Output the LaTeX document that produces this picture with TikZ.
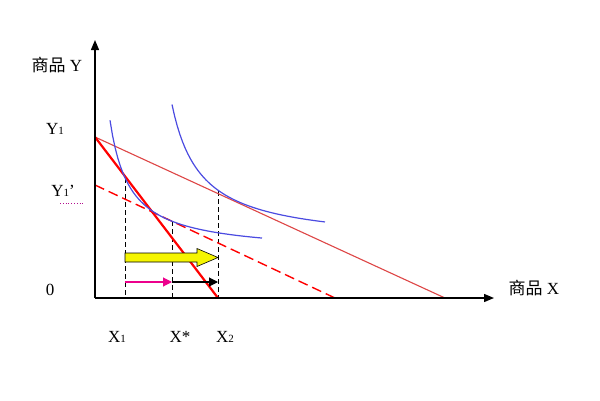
\documentclass[tikz,border=0pt]{standalone}
\usepackage{fontspec}
\setmainfont{Liberation Serif}
\newfontfamily\cjk{Noto Sans CJK SC}
\usetikzlibrary{arrows.meta}
\definecolor{thinred}{RGB}{222,70,70}
\definecolor{icblue}{RGB}{75,75,225}
\definecolor{arrowyellow}{RGB}{245,245,0}
\newcommand{\sub}[1]{{\fontsize{11}{11}\selectfont #1}}
\tikzset{
  axis/.style={line width=1.4pt,-{Triangle[length=10pt,width=8pt]}},
  lbl/.style={font=\fontsize{17}{17}\selectfont, inner sep=0pt},
  icurve/.style={icblue, line width=1.2pt},
  guide/.style={black, dashed, dash pattern=on 5pt off 3pt, line width=0.9pt},
}
\begin{document}
\begin{tikzpicture}[x=1pt,y=-1pt]
\useasboundingbox (0,0) rectangle (600,400);
\fill[white] (0,0) rectangle (600,400);
% key coordinates
\coordinate (O) at (95,298);
\coordinate (Ytip) at (95,40);
\coordinate (Xtip) at (494,298);
\coordinate (Y1) at (95,137);
\coordinate (Y1p) at (95,185);
\coordinate (Xthin) at (445,298);
\coordinate (Xthick) at (218,298);
\coordinate (Xdash) at (335,298);
\coordinate (A1) at (125,178);
\coordinate (A1b) at (125,298);
\coordinate (As) at (172,221);
\coordinate (Asb) at (172,298);
\coordinate (A2) at (218,191);
\coordinate (A2b) at (218,298);
% guides
\draw[guide] (A1) -- (A1b);
\draw[guide] (As) -- (Asb);
\draw[guide] (A2) -- (A2b);
% budget lines
\draw[thinred, line width=1.1pt] (Y1) -- (Xthin);
\draw[red, line width=1.4pt, dash pattern=on 10pt off 5pt] (Y1p) -- (Xdash);
\draw[red, line width=2.2pt] (Y1) -- (Xthick);
% indifference curves
\draw[icurve] plot[domain=110:262, samples=60] (\x, {298-(44.7+2620/(\x-90.3))});
\draw[icurve] plot[domain=172:325, samples=60] (\x, {298-(53.8+4050/(\x-143))});
% arrows
\coordinate (YA1) at (125,257.5);
\coordinate (YA2) at (218,257.5);
\draw[black, line width=0.6pt, fill=arrowyellow]
  (125,253) -- (197,253) -- (197,248.5) -- (YA2) -- (197,266.5) -- (197,262) -- (125,262) -- cycle;
\coordinate (M1) at (125,282);
\coordinate (M2) at (172,282);
\coordinate (M3) at (218,282);
\draw[magenta, line width=1.1pt, -{Triangle[length=9pt,width=9pt]}] (M1) -- (M2);
\draw[black, line width=1.1pt, -{Triangle[length=9pt,width=9pt]}] (M2) -- (M3);
% axes
\draw[axis] (O) -- (Ytip);
\draw[axis] (O) -- (Xtip);
% labels
\node[lbl] (ly) at (57,65) {{\cjk 商品} Y};
\node[lbl] (lx) at (534,288) {{\cjk 商品} X};
\node[lbl] (ly1) at (55,129) {Y\sub{1}};
\node[lbl] (ly1p) at (63,191) {Y\sub{1}’};
\coordinate (D1) at (60,203);
\coordinate (D2) at (84,203);
\draw[magenta!70!blue, dotted, line width=0.8pt] (D1) -- (D2);
\node[lbl] (l0) at (50,290) {0};
\node[lbl] (lx1) at (117,337) {X\sub{1}};
\node[lbl] (lxs) at (180,337) {X*};
\node[lbl] (lx2) at (225,337) {X\sub{2}};
\end{tikzpicture}
\end{document}
